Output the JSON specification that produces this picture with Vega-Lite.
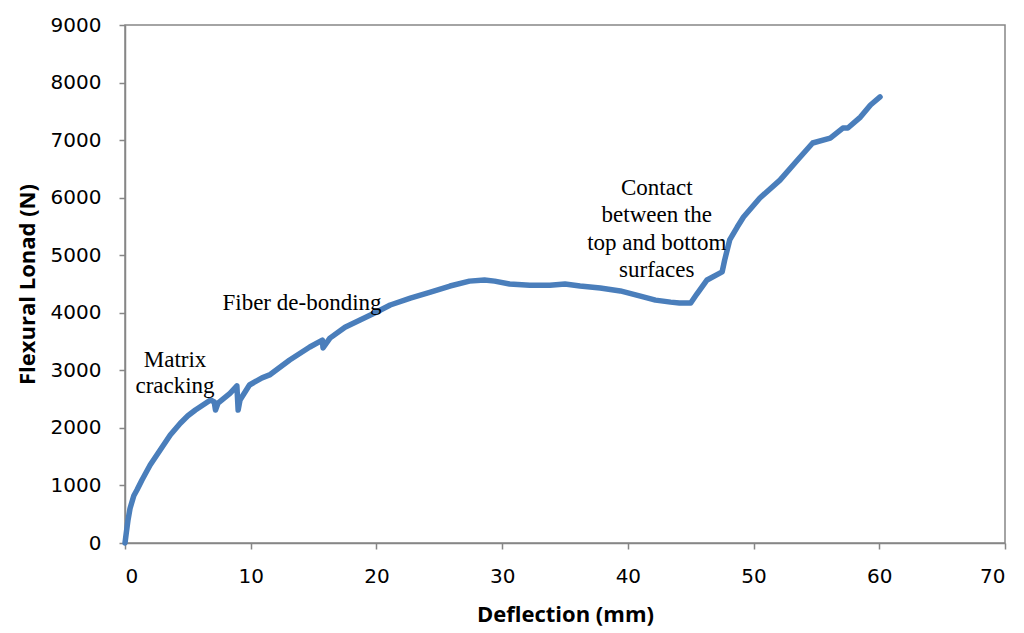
{
  "$schema": "https://vega.github.io/schema/vega-lite/v6.json",
  "width": 880,
  "height": 518,
  "autosize": {"type": "none"},
  "padding": {"left": 125, "top": 25, "right": 19, "bottom": 90},
  "background": "white",
  "config": {
    "view": {"stroke": "#868686", "strokeWidth": 1.5},
    "axis": {"grid": false, "domainColor": "#868686", "tickColor": "#868686", "domainWidth": 1.5, "tickWidth": 1.5, "tickSize": 6,
      "labelFont": "DejaVu Sans", "labelFontSize": 20, "labelColor": "#000000", "format": "d",
      "titleFont": "Open Sans", "titleFontSize": 22, "titleFontWeight": "bold", "titleColor": "#000000"}
  },
  "datasets": {
    "curve": [
      {"d": 0, "f": 0}, {"d": 0.1, "f": 170}, {"d": 0.24, "f": 400}, {"d": 0.4, "f": 600}, {"d": 0.7, "f": 820}, {"d": 0.95, "f": 920}, {"d": 1.35, "f": 1095},
      {"d": 2.0, "f": 1355}, {"d": 2.8, "f": 1615}, {"d": 3.6, "f": 1875}, {"d": 4.4, "f": 2080}, {"d": 5.0, "f": 2210}, {"d": 5.6, "f": 2310},
      {"d": 6.8, "f": 2485}, {"d": 7.1, "f": 2450}, {"d": 7.2, "f": 2310}, {"d": 7.4, "f": 2430}, {"d": 8.35, "f": 2600},
      {"d": 8.9, "f": 2730}, {"d": 9.0, "f": 2310}, {"d": 9.15, "f": 2485}, {"d": 9.9, "f": 2745}, {"d": 10.9, "f": 2870},
      {"d": 11.5, "f": 2920}, {"d": 13.1, "f": 3180}, {"d": 14.7, "f": 3405}, {"d": 15.7, "f": 3525}, {"d": 15.75, "f": 3390},
      {"d": 16.3, "f": 3560}, {"d": 17.5, "f": 3750}, {"d": 18.7, "f": 3875}, {"d": 19.9, "f": 4000}, {"d": 21.1, "f": 4135},
      {"d": 22.7, "f": 4255}, {"d": 24.3, "f": 4360}, {"d": 25.85, "f": 4465}, {"d": 27.4, "f": 4550}, {"d": 28.6, "f": 4570},
      {"d": 29.4, "f": 4550}, {"d": 30.6, "f": 4500}, {"d": 32.2, "f": 4480}, {"d": 33.8, "f": 4480}, {"d": 35.0, "f": 4500},
      {"d": 36.2, "f": 4465}, {"d": 37.8, "f": 4430}, {"d": 39.4, "f": 4380}, {"d": 41.0, "f": 4290}, {"d": 42.2, "f": 4220},
      {"d": 43.4, "f": 4185}, {"d": 44.1, "f": 4170}, {"d": 45.0, "f": 4170}, {"d": 45.5, "f": 4330}, {"d": 46.3, "f": 4570},
      {"d": 47.5, "f": 4710}, {"d": 47.7, "f": 4915}, {"d": 48.1, "f": 5265}, {"d": 48.7, "f": 5490}, {"d": 49.2, "f": 5665},
      {"d": 50.5, "f": 5995}, {"d": 52.1, "f": 6305}, {"d": 53.5, "f": 6655}, {"d": 54.7, "f": 6950}, {"d": 56.1, "f": 7035},
      {"d": 57.1, "f": 7210}, {"d": 57.5, "f": 7210}, {"d": 58.5, "f": 7400}, {"d": 59.3, "f": 7610}, {"d": 60.06, "f": 7750}
    ],
    "notes": [
      {"d": 3.98, "f": 3180, "t": "Matrix"},
      {"d": 3.98, "f": 2728, "t": "cracking"},
      {"d": 14.08, "f": 4170, "t": "Fiber de-bonding"},
      {"d": 42.3, "f": 6168, "t": "Contact"},
      {"d": 42.3, "f": 5698, "t": "between the"},
      {"d": 42.3, "f": 5212, "t": "top and bottom"},
      {"d": 42.3, "f": 4743, "t": "surfaces"}
    ]
  },
  "layer": [
    {
      "data": {"name": "curve"},
      "mark": {"type": "line", "color": "#4A7EBB", "strokeWidth": 5.5, "strokeCap": "round", "strokeJoin": "round"},
      "encoding": {
        "x": {"field": "d", "type": "quantitative", "scale": {"domain": [0, 70]},
          "axis": {"title": "Deflection (mm)", "values": [0,10,20,30,40,50,60,70], "labelPadding": 17, "titlePadding": 18}},
        "y": {"field": "f", "type": "quantitative", "scale": {"domain": [0, 9000]},
          "axis": {"title": "Flexural Lonad (N)", "values": [0,1000,2000,3000,4000,5000,6000,7000,8000,9000], "labelPadding": 18, "titlePadding": 11}}
      }
    },
    {
      "data": {"name": "notes"},
      "mark": {"type": "text", "font": "Liberation Serif", "fontSize": 23, "color": "#000000", "align": "center", "baseline": "middle"},
      "encoding": {
        "x": {"field": "d", "type": "quantitative"},
        "y": {"field": "f", "type": "quantitative"},
        "text": {"field": "t"}
      }
    }
  ]
}
